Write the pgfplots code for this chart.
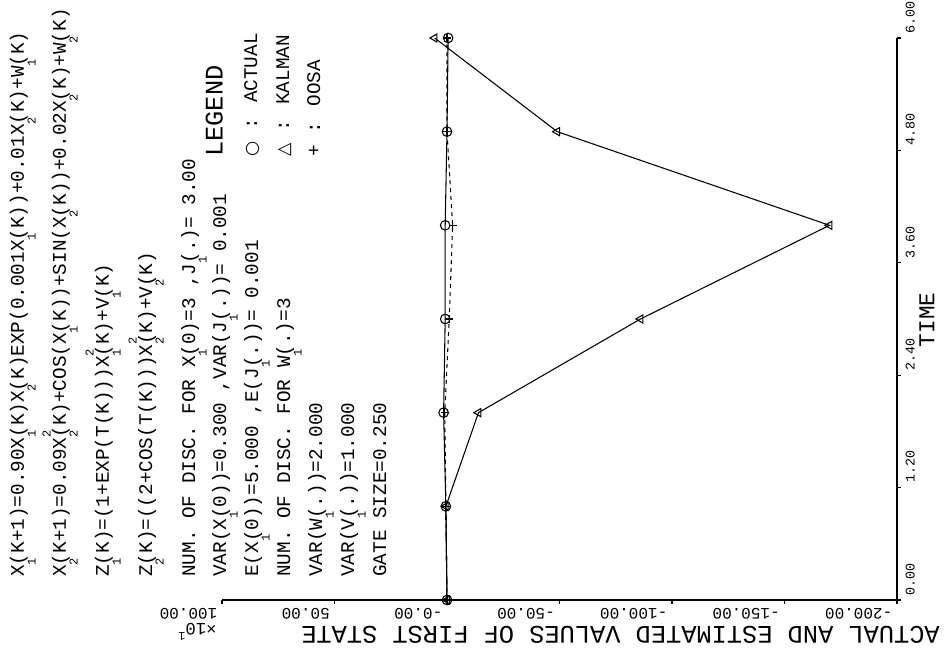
\documentclass[border=0pt]{standalone}
\usepackage{fontspec}
\usepackage{pgfplots}
\pgfplotsset{compat=1.18}
\newfontfamily\plt{Liberation Mono}
\newfontfamily\sym{DejaVu Sans}
\newcommand\sub[1]{\rlap{\raisebox{-0.6em}{\fontsize{9}{9}\selectfont #1}}}
\newcommand\sups[1]{\rlap{\raisebox{0.8em}{\fontsize{9}{9}\selectfont #1}}}
\newcommand\txt{\plt\fontsize{14.5}{14.5}\selectfont}
\pgfplotstableread{
t v
0 0
1 0.5
2 1.5
3 0.8
4 0.8
5 0
6 -0.5
}\actual
\pgfplotstableread{
t v
0 0
1 0.5
2 -14
3 -86
4 -170
5 -49
6 5.5
}\kalman
\pgfplotstableread{
t v
0 0
1 0.5
2 1
3 -1
4 -2.5
5 0
6 0
}\oosa
\begin{document}
\begin{tikzpicture}
\path[use as bounding box] (-166.5pt,-41.25pt) rectangle (541.5pt,450pt);
\begin{axis}[
 at={(0pt,0pt)}, anchor=south west,
 scale only axis, width=506.25pt, height=421.5pt,
 xmin=-200, xmax=100, ymin=0, ymax=6,
 x dir=reverse,
 axis x line*=bottom, axis y line*=right,
 axis line style={line width=1.1pt, -},
 xtick={-200,-150,-100,-50,0,50,100},
 xticklabels={-200.00,-150.00,-100.00,-50.00,-0.00,50.00,100.00},
 ytick={0,1.2,2.4,3.6,4.8,6},
 yticklabels={0.00,1.20,2.40,3.60,4.80,6.00},
 tick align=outside, major tick length=3pt,
 tick style={line width=0.8pt, black},
 xticklabel style={rotate=180, anchor=south west, font=\plt\fontsize{12}{12}\selectfont},
 yticklabel style={rotate=90, anchor=north west, font=\plt\fontsize{10}{10}\selectfont},
 clip=false,
]
\addplot[black, line width=0.8pt, dashed, mark=+, mark size=3pt, mark options={solid}] table[x=v,y=t] {\oosa};
\addplot[black, line width=0.8pt, mark=triangle, mark size=3.5pt, mark options={solid, rotate=90}] table[x=v,y=t] {\kalman};
\addplot[black, line width=0.8pt, mark=o, mark size=3.6pt, mark options={solid}] table[x=v,y=t] {\actual};
\end{axis}
% annotation text (rotated)
\begin{scope}[every node/.style={inner sep=0pt, rotate=90, anchor=base west}]
\node at (-148.5pt,17.25pt) {\txt X\sub1(K+1)=0.90X\sub1(K)X\sub2(K)EXP(0.001X\sub1(K))+0.01X\sub2(K)+W\sub1(K)};
\node at (-117pt,17.25pt) {\txt X\sub2(K+1)=0.09X\sub2\sups2(K)+COS(X\sub1(K))+SIN(X\sub2(K))+0.02X\sub2(K)+W\sub2(K)};
\node at (-84.75pt,17.25pt) {\txt Z\sub1(K)=(1+EXP(T(K)))X\sub1\sups2(K)+V\sub1(K)};
\node at (-52.5pt,17.25pt) {\txt Z\sub2(K)=((2+COS(T(K)))X\sub2\sups2(K)+V\sub2(K)};
\node at (-20.25pt,17.25pt) {\txt NUM. OF DISC. FOR X\sub1(0)=3 ,J\sub1(.)= 3.00};
\node at (3pt,17.25pt) {\txt VAR(X\sub1(0))=0.300 ,VAR(J\sub1(.))= 0.001};
\node at (27pt,17.25pt) {\txt E(X\sub1(0))=5.000 ,E(J\sub1(.))= 0.001};
\node at (51pt,17.25pt) {\txt NUM. OF DISC. FOR W\sub1(.)=3};
\node at (75pt,17.25pt) {\txt VAR(W\sub1(.))=2.000};
\node at (99pt,17.25pt) {\txt VAR(V\sub1(.))=1.000};
\node at (123pt,17.25pt) {\txt GATE SIZE=0.250};
\node at (0.4pt,332.25pt) {\plt\fontsize{19}{19}\selectfont LEGEND};
\node at (26.25pt,332.25pt) {\txt{\sym\fontsize{13}{13}\selectfont ○} : ACTUAL};
\node at (50.25pt,332.25pt) {\txt{\sym\fontsize{13}{13}\selectfont △} : KALMAN};
\node at (73.5pt,332.25pt) {\txt + : OOSA};
\end{scope}
\node[inner sep=0pt, rotate=180, anchor=base west] at (538.5pt,-20.25pt) {\plt\fontsize{19}{19}\selectfont ACTUAL AND ESTIMATED VALUES OF FIRST STATE};
\node[inner sep=0pt, rotate=180, anchor=base west] at (-3.75pt,-18pt) {\plt\fontsize{13}{13}\selectfont ×10\raisebox{0.5em}{\fontsize{9}{9}\selectfont 1}};
\node[inner sep=0pt, rotate=90] at (528.75pt,210pt) {\plt\fontsize{17}{17}\selectfont TIME};
\end{tikzpicture}
\end{document}
